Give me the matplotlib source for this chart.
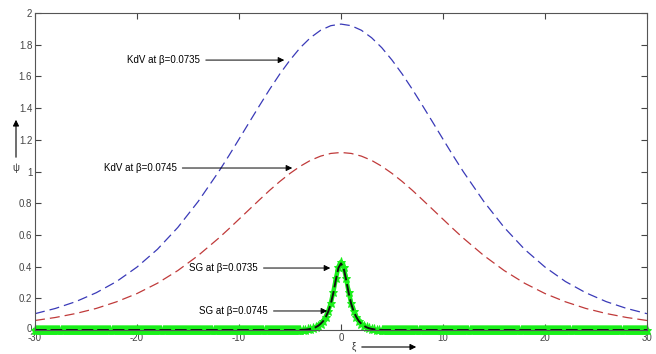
import numpy as np
import matplotlib
matplotlib.use("Agg")
import matplotlib.pyplot as plt
import matplotlib.transforms as mtransforms

plt.rcParams['font.family'] = ['Liberation Sans', 'DejaVu Sans']
plt.rcParams['axes.unicode_minus'] = False

# KdV curves (symmetric about 0)
kdv_x = [-30, -28, -26, -24, -22, -20, -18, -16, -14, -12, -11, -10, -9, -8, -7, -6,
         -5, -4, -3, -2, -1, 0, 1, 2, 3, 4, 5, 6, 7, 8, 9, 10, 11, 12, 14, 16, 18,
         20, 22, 24, 26, 28, 30]
kdv_0735 = [0.103, 0.136, 0.179, 0.235, 0.306, 0.397, 0.509, 0.647, 0.811, 0.998,
            1.099, 1.204, 1.310, 1.415, 1.518, 1.615, 1.703, 1.781, 1.844, 1.891,
            1.920, 1.930, 1.920, 1.891, 1.844, 1.781, 1.703, 1.615, 1.518, 1.415,
            1.310, 1.204, 1.099, 0.998, 0.811, 0.647, 0.509, 0.397, 0.306, 0.235,
            0.179, 0.136, 0.103]
kdv_0745 = [0.060, 0.079, 0.104, 0.136, 0.178, 0.230, 0.295, 0.375, 0.470, 0.579,
            0.638, 0.699, 0.760, 0.821, 0.881, 0.937, 0.988, 1.033, 1.070, 1.097,
            1.114, 1.120, 1.114, 1.097, 1.070, 1.033, 0.988, 0.937, 0.881, 0.821,
            0.760, 0.699, 0.638, 0.579, 0.470, 0.375, 0.295, 0.230, 0.178, 0.136,
            0.104, 0.079, 0.060]

# SG curves: peak region sampled every 0.25, flat (zero) elsewhere
sg_peak_x = [-4.0, -3.75, -3.5, -3.25, -3.0, -2.75, -2.5, -2.25, -2.0, -1.75, -1.5,
             -1.25, -1.0, -0.75, -0.5, -0.25, 0.0, 0.25, 0.5, 0.75, 1.0, 1.25, 1.5,
             1.75, 2.0, 2.25, 2.5, 2.75, 3.0, 3.25, 3.5, 3.75, 4.0]
sg_0735_peak = [0.0, 0.001, 0.002, 0.004, 0.007, 0.012, 0.018, 0.027, 0.040, 0.058,
                0.085, 0.120, 0.170, 0.240, 0.325, 0.400, 0.430, 0.400, 0.325, 0.240,
                0.170, 0.120, 0.085, 0.058, 0.040, 0.027, 0.018, 0.012, 0.007, 0.004,
                0.002, 0.001, 0.0]
sg_0745_peak = [0.0, 0.001, 0.002, 0.004, 0.007, 0.011, 0.017, 0.026, 0.039, 0.056,
                0.082, 0.116, 0.165, 0.234, 0.318, 0.392, 0.420, 0.392, 0.318, 0.234,
                0.165, 0.116, 0.082, 0.056, 0.039, 0.026, 0.017, 0.011, 0.007, 0.004,
                0.002, 0.001, 0.0]
sg_tail_value = 0.0

x_ticks = [-30, -20, -10, 0, 10, 20, 30]
y_ticks = [0, 0.2, 0.4, 0.6, 0.8, 1.0, 1.2, 1.4, 1.6, 1.8, 2.0]
y_ticklabels = ['0', '0.2', '0.4', '0.6', '0.8', '1', '1.2', '1.4', '1.6', '1.8', '2']

# assemble SG series
left_tail = np.arange(-30, -4.05, 0.1)
right_tail = np.arange(4.1, 30.01, 0.1)
sg_x = np.concatenate([left_tail, sg_peak_x, right_tail])
sg_a = np.concatenate([np.full(len(left_tail), sg_tail_value), sg_0735_peak,
                       np.full(len(right_tail), sg_tail_value)])
sg_b = np.concatenate([np.full(len(left_tail), sg_tail_value), sg_0745_peak,
                       np.full(len(right_tail), sg_tail_value)])

fig = plt.figure(figsize=(6.56, 3.54), dpi=100)
ax = fig.add_axes([35/656, 24/354, 612/656, 317/354])

ax.plot(kdv_x, kdv_0735, color='#3a3ab8', lw=0.9, dashes=(8, 4))
ax.plot(kdv_x, kdv_0745, color='#c03a3a', lw=0.9, dashes=(8, 4))
ax.plot(sg_x, sg_a, color='#19f019', lw=3.2, marker='*', markersize=6.5,
        markeredgewidth=0.7, linestyle='-', zorder=3, clip_on=False)
ax.plot(sg_x, sg_b, color='#111111', lw=1.4, dashes=(6, 2), zorder=4)

ax.set_xlim(-30, 30)
ax.set_ylim(0, 2)
ax.set_xticks(x_ticks)
ax.set_yticks(y_ticks)
ax.set_yticklabels(y_ticklabels)
ax.tick_params(direction='in', length=4, width=0.8, labelsize=7, colors='#444444',
               top=True, right=True, pad=2)
for s in ax.spines.values():
    s.set_color('#555555')
    s.set_linewidth(0.8)
    s.set_zorder(5)

# nudge the "0" y tick label up slightly so it does not collide with "-30"
zero_lbl = ax.get_yticklabels()[0]
zero_lbl.set_transform(zero_lbl.get_transform() +
                       mtransforms.ScaledTranslation(0, 2/100, fig.dpi_scale_trans))

arrow = dict(arrowstyle='-|>', color='black', lw=0.7, mutation_scale=9)
fs = 7
ax.annotate('KdV at β=0.0735', xy=(-5.29, 1.703), xytext=(-13.8, 1.703),
            ha='right', va='center', fontsize=fs, arrowprops=arrow)
ax.annotate('KdV at β=0.0745', xy=(-4.51, 1.022), xytext=(-16.1, 1.022),
            ha='right', va='center', fontsize=fs, arrowprops=arrow)
ax.annotate('SG at β=0.0735', xy=(-0.78, 0.391), xytext=(-8.14, 0.391),
            ha='right', va='center', fontsize=fs, arrowprops=arrow)
ax.annotate('SG at β=0.0745', xy=(-1.08, 0.12), xytext=(-7.16, 0.12),
            ha='right', va='center', fontsize=fs, arrowprops=arrow)

# axis labels with arrows
fig.text(16/656, 1 - 168/354, 'ψ', ha='center', va='center', fontsize=7, color='#333333')
fig.patches.append(matplotlib.patches.FancyArrowPatch(
    (16/656, 1 - 160/354), (16/656, 1 - 117/354), transform=fig.transFigure,
    arrowstyle='-|>', mutation_scale=9, color='black', lw=0.8))
fig.text(354/656, 1 - 347/354, 'ξ', ha='center', va='center', fontsize=7, color='#333333')
fig.patches.append(matplotlib.patches.FancyArrowPatch(
    (359/656, 1 - 347/354), (419/656, 1 - 347/354), transform=fig.transFigure,
    arrowstyle='-|>', mutation_scale=9, color='black', lw=0.8))

fig.savefig('out.png', dpi=100)
